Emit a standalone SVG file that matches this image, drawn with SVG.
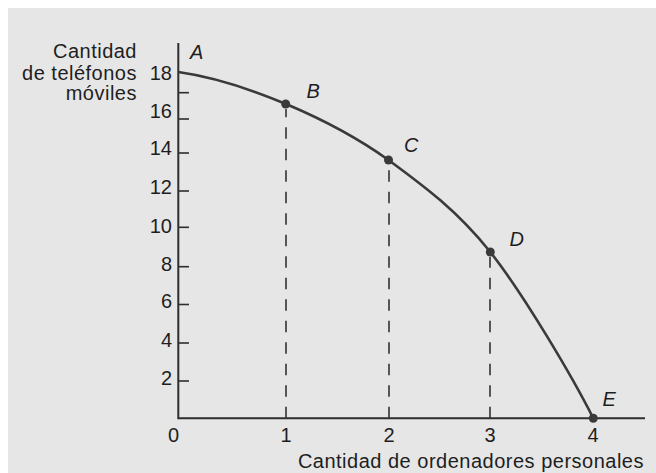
<svg xmlns="http://www.w3.org/2000/svg" width="656" height="473" viewBox="0 0 656 473">
  <style>
    text { font-family: "Liberation Sans", Arial, Helvetica, sans-serif; font-size: 20px; fill: #1e1e1e; letter-spacing: 0.5px; }
    .num { text-anchor: end; letter-spacing: 0; }
    .xnum { text-anchor: middle; letter-spacing: 0; }
    .pt { font-style: italic; letter-spacing: 0; }
    .axis { stroke: #2e2e2e; stroke-width: 2; fill: none; }
    .tick { stroke: #2e2e2e; stroke-width: 1.6; }
    .curve { stroke: #3a3a3a; stroke-width: 2.6; fill: none; }
    .dash { stroke: #333; stroke-width: 1.6; stroke-dasharray: 11.5 10; fill: none; }
    .dot { fill: #3a3a3a; }
  </style>
  <rect x="0" y="0" width="656" height="473" fill="#ffffff"/>
  <rect x="8" y="8" width="648" height="465" fill="#e6e6e6"/>

  <g id="axes">
    <path class="axis" d="M178.3,43 V418.3 H645"/>
    <g id="y-ticks">
      <line class="tick" x1="178" y1="92.7" x2="189" y2="92.7"/>
      <line class="tick" x1="178" y1="119" x2="189" y2="119"/>
      <line class="tick" x1="178" y1="153" x2="189" y2="153"/>
      <line class="tick" x1="178" y1="191" x2="189" y2="191"/>
      <line class="tick" x1="178" y1="227.3" x2="189" y2="227.3"/>
      <line class="tick" x1="178" y1="266.7" x2="189" y2="266.7"/>
      <line class="tick" x1="178" y1="304.5" x2="189" y2="304.5"/>
      <line class="tick" x1="178" y1="343" x2="189" y2="343"/>
      <line class="tick" x1="178" y1="381" x2="189" y2="381"/>
    </g>
    <g id="y-labels">
      <text class="num" x="172" y="80">18</text>
      <text class="num" x="172" y="118.3">16</text>
      <text class="num" x="172" y="155">14</text>
      <text class="num" x="172" y="194">12</text>
      <text class="num" x="172" y="233">10</text>
      <text class="num" x="172" y="271">8</text>
      <text class="num" x="172" y="308">6</text>
      <text class="num" x="172" y="347">4</text>
      <text class="num" x="172" y="385">2</text>
    </g>
    <g id="x-labels">
      <text class="xnum" x="173.5" y="442">0</text>
      <text class="xnum" x="286" y="442">1</text>
      <text class="xnum" x="389" y="442">2</text>
      <text class="xnum" x="490" y="442">3</text>
      <text class="xnum" x="593" y="442">4</text>
    </g>
    <g id="y-title">
      <text x="137" y="58.3" text-anchor="end">Cantidad</text>
      <text x="137" y="79.5" text-anchor="end">de teléfonos</text>
      <text x="137" y="100" text-anchor="end">móviles</text>
    </g>
    <text id="x-title" x="644" y="468" text-anchor="end">Cantidad de ordenadores personales</text>
  </g>

  <g id="connectors">
    <path class="dash" d="M286,418.3 V109"/>
    <path class="dash" d="M389,418.3 V165"/>
    <path class="dash" d="M490,418.3 V257"/>
    <path id="frontier" class="curve" d="M178.3,72 C214,77 251,89.3 286,104 C321,118.7 354,135.3 388.5,160 C422,184.7 455.8,209 490.3,252 C524.2,295 573,378 593.3,418.3"/>
  </g>

  <g id="point-A">
    <text class="pt" x="190" y="59">A</text>
  </g>
  <g id="point-B">
    <circle class="dot" cx="285.7" cy="104" r="4.5"/>
    <text class="pt" x="306.5" y="97.5">B</text>
  </g>
  <g id="point-C">
    <circle class="dot" cx="388.5" cy="160" r="4.5"/>
    <text class="pt" x="404" y="152">C</text>
  </g>
  <g id="point-D">
    <circle class="dot" cx="490.3" cy="252" r="4.5"/>
    <text class="pt" x="509.5" y="246">D</text>
  </g>
  <g id="point-E">
    <circle class="dot" cx="593.3" cy="418.3" r="4.5"/>
    <text class="pt" x="602.5" y="406">E</text>
  </g>
</svg>
